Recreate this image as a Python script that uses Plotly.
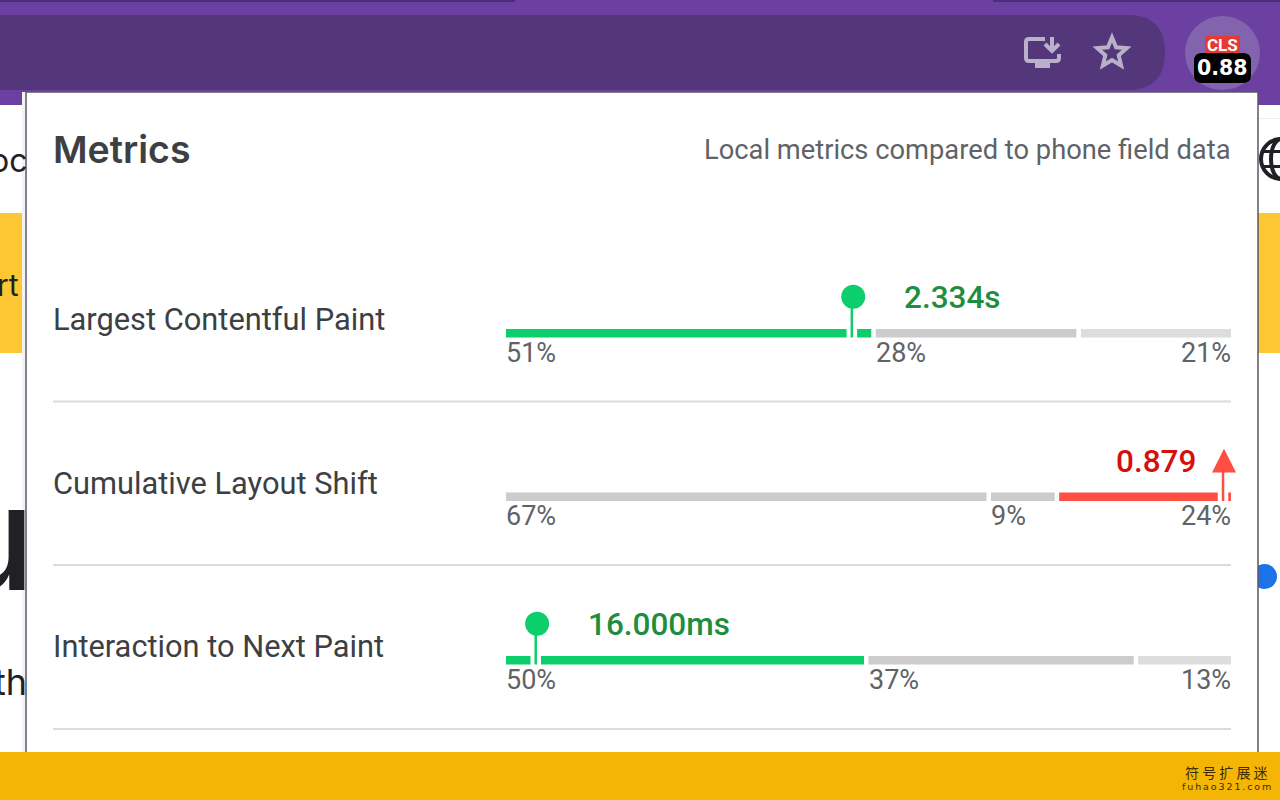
import math
import plotly.graph_objects as go

# values
metrics = ["Largest Contentful Paint", "Cumulative Layout Shift", "Interaction to Next Paint"]
rows = [0, 1, 2]
good_share = [51.0, 66.9, 50.0]
mid_share = [28.3, 9.4, 37.2]
poor_share = [20.7, 23.7, 12.8]
good_label = ["51%", "67%", "50%"]
mid_label = ["28%", "9%", "37%"]
poor_label = ["21%", "24%", "13%"]
local_pos = [47.7, 98.9, 4.1]
local_text = ["2.334s", "0.879", "16.000ms"]
local_rating = ["good", "poor", "good"]

GREEN = "#0cce6b"
RED = "#ff4e42"
GREY = "#cccccc"
LIGHT = "#dddddd"
GREEN_TEXT = "#1e8e3e"
RED_TEXT = "#d5100c"
PURPLE = "#6c40a0"
OMNIBOX = "#54377a"
ICON = "#b9b0c9"
YELLOW = "#fdc633"
BAND = "#f5b505"
ROBOTO = "Roboto"

# bar track in pixels
TRACK_L, TRACK_R = 506, 1231
ROW_H = 163.5
ROW0 = 333.2
PX = 100 / (TRACK_R - TRACK_L)  # one pixel in percent units
GAP = 4.5 * PX
LIFT = 36.5 / ROW_H
BAR_W = 8.5 / ROW_H
X_MAX = 102  # room for the arrow head past the end of the track


def rect(x0, y0, x1, y1, color):
    return dict(type="rect", x0=x0, y0=y0, x1=x1, y1=y1, fillcolor=color, line_width=0, layer="below")


def path(d, fill="rgba(0,0,0,0)", line=None, width=0):
    return dict(type="path", path=d, fillcolor=fill, line=dict(color=line or "rgba(0,0,0,0)", width=width), layer="below")


def rounded(x0, y0, x1, y1, r):
    return (f"M{x0+r} {y0} L{x1-r} {y0} Q{x1} {y0} {x1} {y0+r} L{x1} {y1-r} Q{x1} {y1} {x1-r} {y1} "
            f"L{x0+r} {y1} Q{x0} {y1} {x0} {y1-r} L{x0} {y0+r} Q{x0} {y0} {x0+r} {y0} Z")


star = []
for i in range(10):
    r = 15.5 if i % 2 == 0 else 7
    a = -math.pi / 2 + i * math.pi / 5
    star.append(f"{1112 + r * math.cos(a):.1f} {53 + r * math.sin(a):.1f}")
star_path = "M" + " L".join(star) + " Z"

shapes = [
    # browser chrome
    rect(0, 0, 1280, 105, PURPLE),
    rect(0, 0, 515, 2, "#4b2f7c"),
    rect(993, 0, 1280, 2, "#4b2f7c"),
    path("M0 15 L1128 15 Q1165 15 1165 52 Q1165 90 1128 90 L0 90 Z", fill=OMNIBOX),
    # monitor + download icon
    path("M1045 39 L1029 39 Q1026 39 1026 42 L1026 58 Q1026 61 1029 61 L1056 61 Q1059 61 1059 58 L1059 54",
         line=ICON, width=4),
    rect(1035, 61, 1050, 68, ICON),
    path("M1052 37 L1052 49", line=ICON, width=4),
    path("M1045 44 L1052 51 L1059 44", line=ICON, width=4),
    path(star_path, line=ICON, width=4),
    # badge
    dict(type="circle", x0=1185, y0=16, x1=1260, y1=90, fillcolor="#8263ae", line_width=0, layer="below"),
    rect(1205, 36, 1240, 53, "#e53935"),
    path(rounded(1194, 53, 1251, 83, 8), fill="#000000"),
    # page behind the popup
    rect(0, 105, 1280, 752, "#ffffff"),
    rect(0, 213, 1280, 353, YELLOW),
    rect(1258, 118, 1280, 119, "#ececec"),
    dict(type="circle", x0=1252, y0=564, x1=1277, y1=589, fillcolor="#1a73e8", line_width=0, layer="below"),
    # globe
    dict(type="circle", x0=1261, y0=139, x1=1301, y1=179, line=dict(color="#202124", width=4), layer="below"),
    dict(type="circle", x0=1271, y0=139, x1=1291, y1=179, line=dict(color="#202124", width=4), layer="below"),
    rect(1261, 150, 1280, 153, "#202124"),
    rect(1261, 165, 1280, 168, "#202124"),
    # popup
    rect(22, 92, 26, 752, "#f3f2f5"),
    dict(type="rect", x0=26, y0=92, x1=1258, y1=760, fillcolor="#ffffff",
         line=dict(color="#5c5766", width=1.5), layer="below"),
    rect(53, 400.5, 1231, 402.5, "#dadce0"),
    rect(53, 564, 1231, 566, "#dadce0"),
    rect(53, 728, 1231, 730, "#dadce0"),
    # bottom band
    rect(0, 752, 1280, 800, BAND),
]


def note(text, x, y, size, color, anchor="left", weight=400, family=ROBOTO):
    return dict(text=text, x=x, y=y, xref="x", yref="y", xanchor=anchor, yanchor="middle", showarrow=False,
                font=dict(family=family, size=size, color=color, weight=weight))


annotations = [
    note("Metrics", 51, 149, 37.5, "#3c4043", weight=600, family="Inter"),
    note("Local metrics compared to phone field data", 1231.5, 149.5, 27.3, "#5f6368", anchor="right"),
    note("oc", 29, 160, 32, "#202124", anchor="right", family="Inter"),
    note("rt", 21, 285, 30, "#202124", anchor="right", family="Inter"),
    note("u", 37, 537, 146, "#202124", anchor="right", weight=500, family="Inter"),
    note("th", 29, 682, 36, "#202124", anchor="right", family="Inter"),
    note("CLS", 1222.5, 44.5, 17, "#ffffff", anchor="center", weight=700),
    note("0.88", 1222.5, 68, 20.5, "#ffffff", anchor="center", weight=700, family="DejaVu Sans"),
    note("符 号 扩 展 迷", 1226, 772, 14, "#3a2c05", anchor="center", family="Noto Sans CJK SC"),
    note("f\u2009u\u2009h\u2009a\u2009o\u20093\u20092\u20091\u2009.\u2009c\u2009o\u2009m", 1226, 786, 9.5, "#3a2c05",
         anchor="center", family="DejaVu Sans"),
]

for i in rows:
    annotations.append(note(metrics[i], 51, ROW0 + i * ROW_H - 13.5, 30.8, "#3c4043"))

    a_start = good_share[i]
    for text, pos, anchor, nudge in [(good_label[i], 0, "left", -2), (mid_label[i], a_start, "left", -2),
                                     (poor_label[i], 100, "right", 2)]:
        annotations.append(dict(text=text, x=pos, y=i, xref="x2", yref="y2", yshift=-19.5, xshift=nudge, xanchor=anchor,
                                yanchor="middle", showarrow=False,
                                font=dict(family=ROBOTO, size=27, color="#5f6368")))

    poor = local_rating[i] == "poor"
    annotations.append(dict(text=local_text[i], x=local_pos[i], y=i - LIFT, xref="x2", yref="y2", yshift=-1,
                            xshift=-25 if poor else 50, xanchor="right" if poor else "left", yanchor="middle",
                            showarrow=False,
                            font=dict(family=ROBOTO, size=31.5, weight=500, color=RED_TEXT if poor else GREEN_TEXT)))

fig = go.Figure()

# empty trace so the pixel axes exist
fig.add_trace(go.Scatter(x=[None], y=[None], xaxis="x", yaxis="y", showlegend=False, hoverinfo="skip"))

starts_mid = good_share
starts_poor = [g + m for g, m in zip(good_share, mid_share)]
good_colors = [GREY if r == "poor" else GREEN for r in local_rating]
poor_colors = [RED if r == "poor" else LIGHT for r in local_rating]

fig.add_trace(go.Bar(y=rows, x=[v - GAP for v in good_share], base=[0, 0, 0], width=BAR_W, orientation="h",
                     marker=dict(color=good_colors, line_width=0), xaxis="x2", yaxis="y2", showlegend=False))
fig.add_trace(go.Bar(y=rows, x=[v - GAP for v in mid_share], base=starts_mid, width=BAR_W, orientation="h",
                     marker=dict(color=GREY, line_width=0), xaxis="x2", yaxis="y2", showlegend=False))
fig.add_trace(go.Bar(y=rows, x=poor_share, base=starts_poor, width=BAR_W, orientation="h",
                     marker=dict(color=poor_colors, line_width=0), xaxis="x2", yaxis="y2", showlegend=False))

# white notch in the bar around each needle, then the needle and its head
for i in rows:
    v = local_pos[i]
    fig.add_trace(go.Scatter(x=[v, v], y=[i - BAR_W, i + BAR_W], mode="lines",
                             line=dict(color="#ffffff", width=10.5), xaxis="x2", yaxis="y2", showlegend=False))
    color = RED if local_rating[i] == "poor" else GREEN
    fig.add_trace(go.Scatter(x=[v, v], y=[i - LIFT, i + BAR_W / 2], mode="lines",
                             line=dict(color=color, width=2.5), xaxis="x2", yaxis="y2", showlegend=False))
    if local_rating[i] == "poor":
        hw = 12 * PX
        tip = i - 48 / ROW_H
        foot = i - 24.3 / ROW_H
        fig.add_trace(go.Scatter(x=[v + PX - hw, v + PX, v + PX + hw, v + PX - hw], y=[foot, tip, foot, foot],
                                 mode="lines", fill="toself", fillcolor=color, line=dict(color=color, width=0),
                                 xaxis="x2", yaxis="y2", showlegend=False))
    else:
        fig.add_trace(go.Scatter(x=[v + 1.4 * PX], y=[i - LIFT], mode="markers",
                                 marker=dict(color=color, size=24, line_width=0),
                                 xaxis="x2", yaxis="y2", showlegend=False))

fig.update_layout(
    width=1280,
    height=800,
    margin=dict(l=0, r=0, t=0, b=0),
    paper_bgcolor="#ffffff",
    plot_bgcolor="rgba(0,0,0,0)",
    barmode="overlay",
    shapes=shapes,
    annotations=annotations,
    xaxis=dict(range=[0, 1280], domain=[0, 1], visible=False, fixedrange=True),
    yaxis=dict(range=[800, 0], domain=[0, 1], visible=False, fixedrange=True),
    xaxis2=dict(range=[0, X_MAX], domain=[TRACK_L / 1280, (TRACK_L + X_MAX / PX) / 1280], visible=False, anchor="y2"),
    yaxis2=dict(range=[2.5, -0.5], visible=False, anchor="x2",
                domain=[1 - (ROW0 + 2.5 * ROW_H) / 800, 1 - (ROW0 - 0.5 * ROW_H) / 800]),
)

fig.write_html("out.html", config=dict(displayModeBar=False),
               post_script="document.body.style.margin='0';document.body.style.overflow='hidden';")
